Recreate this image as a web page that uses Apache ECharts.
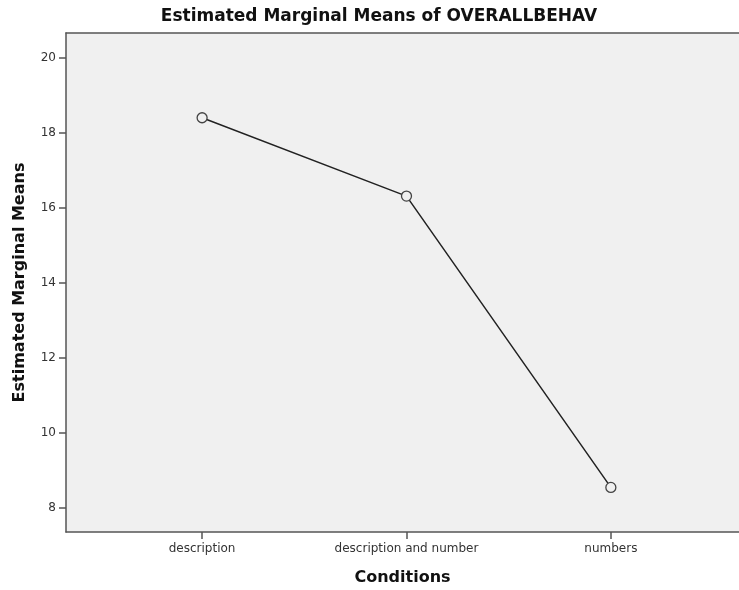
<!DOCTYPE html>
<html>
<head>
<meta charset="utf-8">
<script src="https://cdn.jsdelivr.net/npm/echarts@6/dist/echarts.min.js"></script>
<style>
  html, body { margin: 0; padding: 0; background: #fff; }
  #main { width: 739px; height: 590px; }
</style>
</head>
<body>
<div id="main"></div>
<script>
// 数据
var categories = ['description', 'description and number', 'numbers'];
var means = [18.41, 16.32, 8.55];
var yTicks = [8, 10, 12, 14, 16, 18, 20];

var chart = echarts.init(document.getElementById('main'));

// 类别放在 1,2,3 位置上
var points = categories.map(function (c, i) { return [i + 1, means[i]]; });

var fontFam = 'DejaVu Sans';
var axisColor = '#555';

var option = {
  backgroundColor: '#fff',
  animation: false,
  title: {
    text: 'Estimated Marginal Means of OVERALLBEHAV',
    left: 374,
    textAlign: 'center',
    top: 3,
    textStyle: { fontFamily: fontFam, fontSize: 17, fontWeight: 'bold', color: '#111' }
  },
  grid: {
    left: 66, right: 0, top: 33, bottom: 58,
    outerBoundsMode: 'none',
    show: true, backgroundColor: '#f0f0f0', borderWidth: 0
  },
  xAxis: [{
    type: 'value',
    min: 0.334,
    max: 3.627,
    name: 'Conditions',
    nameLocation: 'middle',
    nameGap: 38,
    nameTextStyle: { fontFamily: fontFam, fontSize: 16, fontWeight: 'bold', color: '#111' },
    splitLine: { show: false },
    axisLine: { show: true, lineStyle: { color: axisColor, width: 1.5 } },
    axisTick: { show: true, customValues: [1, 2, 3], length: 7, lineStyle: { color: axisColor, width: 1.5 } },
    axisLabel: {
      customValues: [1, 2, 3],
      margin: 11,
      fontFamily: fontFam, fontSize: 12, color: '#333',
      formatter: function (v) { return categories[Math.round(v) - 1] || ''; }
    }
  }, {
    // 上边框
    type: 'value', position: 'top', min: 0, max: 1,
    axisLine: { show: true, lineStyle: { color: axisColor, width: 1.5 } },
    axisTick: { show: false }, axisLabel: { show: false }, splitLine: { show: false }
  }],
  yAxis: {
    type: 'value',
    min: 7.36,
    max: 20.67,
    name: 'Estimated Marginal Means',
    nameLocation: 'middle',
    nameGap: 38,
    nameTextStyle: { fontFamily: fontFam, fontSize: 16, fontWeight: 'bold', color: '#111' },
    splitLine: { show: false },
    axisLine: { show: true, lineStyle: { color: axisColor, width: 1.5 } },
    axisTick: { show: true, customValues: yTicks, length: 7, lineStyle: { color: axisColor, width: 1.5 } },
    axisLabel: {
      customValues: yTicks,
      margin: 10,
      fontFamily: fontFam, fontSize: 12, color: '#333'
    }
  },
  series: [{
    type: 'line',
    data: points,
    symbol: 'circle',
    symbolSize: 10,
    lineStyle: { color: '#222', width: 1.5 },
    itemStyle: { color: '#f0f0f0', borderColor: '#444', borderWidth: 1.3 }
  }]
};

chart.setOption(option);
</script>
</body>
</html>
